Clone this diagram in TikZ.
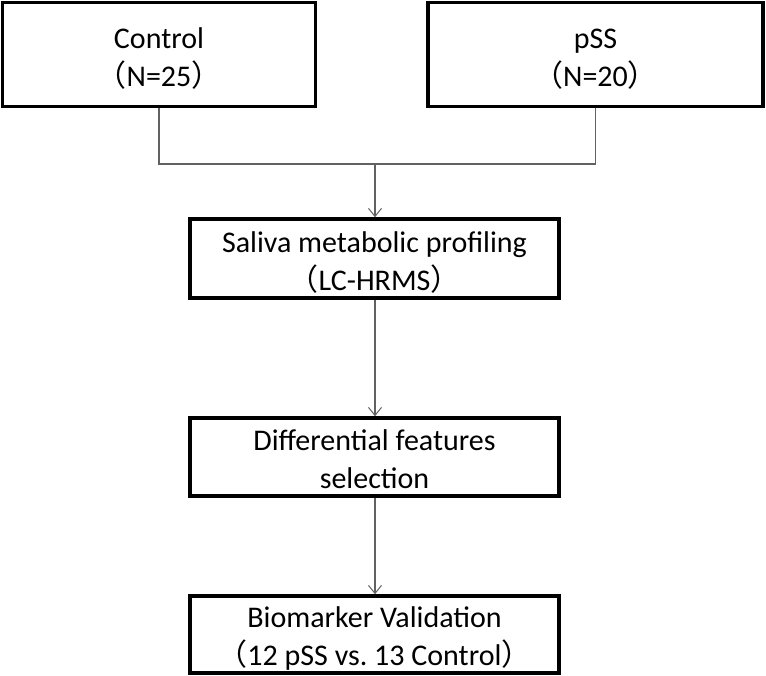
\documentclass[tikz,border=0pt]{standalone}
\usepackage{fontspec}
\setmainfont{Carlito}
\newfontfamily\cjk{Noto Sans CJK SC}
\usetikzlibrary{arrows.meta}
\newcommand{\topstrut}{\rule{0pt}{28pt}}
\begin{document}
\begin{tikzpicture}[x=1pt,y=-1pt,
  box/.style={draw=black,line width=3.6pt,fill=white,inner sep=0pt,align=center,
    font=\fontsize{30}{38}\selectfont},
  conn/.style={draw=black!62,line width=1.1pt},
  arr/.style={conn,-{Straight Barb[length=8pt,width=13pt,line width=1pt]}}]
\useasboundingbox (0,0) rectangle (766,676);
\node[box,minimum width=313pt,minimum height=104pt] (ctrl) at (159,54.5) {\topstrut Control\\{\cjk（}N=25{\cjk）}};
\node[box,minimum width=335pt,minimum height=104pt] (pss) at (595.5,54.5) {\topstrut pSS\\{\cjk（}N=20{\cjk）}};
\node[box,minimum width=369pt,minimum height=79pt] (sal) at (374.5,258.5) {\topstrut Saliva metabolic profiling\\{\cjk（}LC-HRMS{\cjk）}};
\node[box,minimum width=369pt,minimum height=78pt] (dif) at (374.5,457) {\rule{0pt}{26pt}Differential features\\selection};
\node[box,minimum width=369pt,minimum height=77pt] (bio) at (374.5,634.5) {\topstrut Biomarker Validation\\{\cjk（}12 pSS vs.\ 13 Control{\cjk）}};
\coordinate (m) at (375,164);
\draw[conn] (ctrl.south) |- (m) -| (pss.south);
\draw[arr] (m) -- (sal.north -| m);
\draw[arr] (sal.south -| m) -- (dif.north -| m);
\draw[arr] (dif.south -| m) -- (bio.north -| m);
\end{tikzpicture}
\end{document}
